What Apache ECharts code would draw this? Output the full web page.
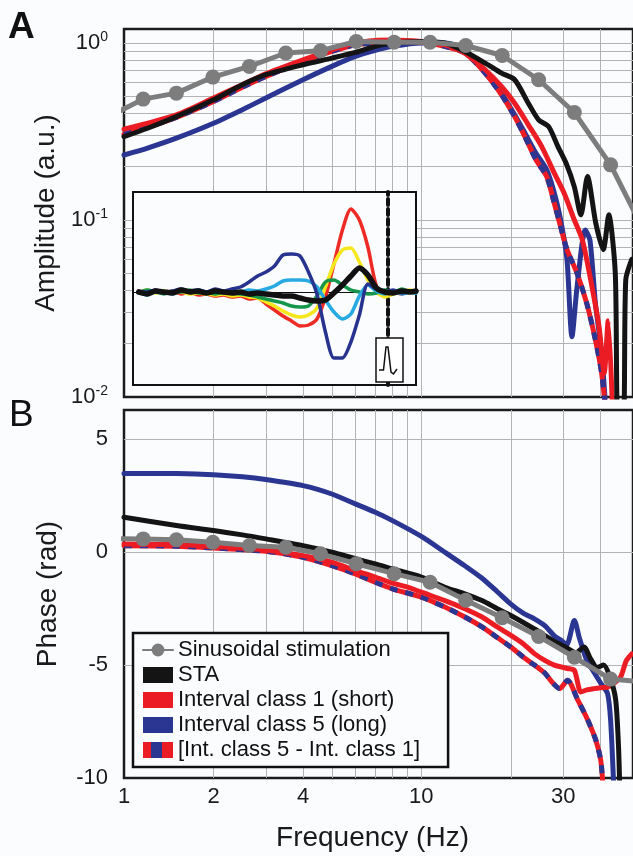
<!DOCTYPE html>
<html>
<head>
<meta charset="utf-8">
<script src="https://cdn.jsdelivr.net/npm/echarts@6/dist/echarts.min.js"></script>
<style>
html,body{margin:0;padding:0;background:#fbfcfe;}
#chart{width:633px;height:856px;}
</style>
</head>
<body>
<div id="chart"></div>
<script>
// ---------- Panel A: amplitude ----------
const sineFreq   = [0.877, 1.16, 1.5, 1.99, 2.64, 3.5, 4.58, 6.04, 8.1, 10.7, 14.1, 18.7, 24.8, 32.7, 43.3, 57.2];
const sineAmp    = [0.38, 0.482, 0.521, 0.642, 0.737, 0.878, 0.905, 1.02, 1.01, 1.01, 0.968, 0.85, 0.62, 0.405, 0.205, 0.081];
const sinePhase  = [0.6, 0.59, 0.55, 0.44, 0.30, 0.22, -0.07, -0.51, -0.95, -1.33, -2.13, -2.9, -3.73, -4.65, -5.62, -5.75];

const staFreqA = [1, 1.2, 1.5, 2, 2.5, 3, 4, 5, 6, 7, 8, 10, 12, 14, 16.4, 18.6, 20.6, 22.9, 24.8, 26.8, 28.8, 30.7, 32.7, 34.4, 36.2, 38.6, 40.9, 42.7, 44.9, 45.8, 47.8, 48.7, 51];
const staAmp   = [0.296, 0.33, 0.384, 0.478, 0.581, 0.662, 0.754, 0.822, 0.885, 0.957, 1.0, 1.02, 1.0, 0.896, 0.77, 0.676, 0.62, 0.457, 0.368, 0.337, 0.26, 0.209, 0.154, 0.107, 0.176, 0.096, 0.068, 0.107, 0.05, 0.008, 0.008, 0.046, 0.06];

const redFreqA = [1, 1.5, 2, 2.5, 3, 4, 5, 6, 7, 8, 10, 12, 14, 16.4, 18.6, 20.6, 22.9, 25.4, 28, 30.2, 32.7, 34.8, 37.1, 39.6, 41.2, 42.5, 44.0];
const redAmp   = [0.326, 0.393, 0.489, 0.581, 0.67, 0.804, 0.916, 1.0, 1.035, 1.04, 1.02, 0.978, 0.878, 0.706, 0.568, 0.457, 0.345, 0.26, 0.184, 0.142, 0.1, 0.077, 0.046, 0.0249, 0.0136, 0.027, 0.008];

const blueFreqA = [1, 1.2, 1.5, 2, 2.5, 3, 4, 5, 6, 7, 8, 10, 12, 14, 16.4, 18.6, 20.6, 22.3, 24.3, 26.4, 28.2, 29.7, 30.9, 32.1, 33.4, 35.6, 36.9, 38.5, 40.4, 41.8];
const blueAmp   = [0.233, 0.255, 0.29, 0.352, 0.42, 0.489, 0.62, 0.738, 0.84, 0.908, 0.957, 1.0, 1.0, 0.916, 0.676, 0.521, 0.393, 0.31, 0.238, 0.192, 0.136, 0.0917, 0.0594, 0.0219, 0.042, 0.0877, 0.077, 0.0338, 0.0176, 0.008];

const diffFreqA = [1, 1.2, 1.5, 2, 2.5, 3, 4, 5, 6, 7, 8, 10, 12, 14, 16.4, 18.6, 20.6, 22.3, 24.3, 26.4, 27.8, 29.4, 30.9, 33.4, 36.0, 38.5, 40.4, 41.8];
const diffAmp   = [0.305, 0.335, 0.38, 0.467, 0.563, 0.647, 0.787, 0.896, 0.978, 1.0, 1.02, 1.01, 0.957, 0.878, 0.676, 0.51, 0.384, 0.296, 0.219, 0.176, 0.13, 0.0917, 0.068, 0.05, 0.0338, 0.021, 0.0136, 0.008];

// ---------- Panel B: phase ----------
const staFreqB = [1, 1.5, 2, 2.5, 3, 4, 5, 6, 7, 8, 10, 12, 14, 16, 18, 20, 24, 28, 31, 33, 35.3, 37, 39, 41, 43, 45, 46, 46.5];
const staPhase = [1.55, 1.18, 0.96, 0.77, 0.59, 0.29, 0.0, -0.29, -0.52, -0.74, -1.10, -1.55, -1.84, -2.14, -2.5, -2.8, -3.4, -3.95, -4.25, -4.45, -4.2, -4.7, -5.1, -5.0, -5.5, -6.5, -8.5, -10.5];

const redFreqB = [1, 1.5, 2, 2.5, 3, 4, 5, 6, 7, 8, 9, 10, 12, 14, 16, 18, 20, 22, 24, 26, 28, 29.5, 31, 32.7, 34.4, 36, 38.1, 40, 42.3, 44.5, 46.8, 48.9, 51];
const redPhase = [0.37, 0.34, 0.25, 0.18, 0.10, -0.15, -0.44, -0.81, -1.10, -1.37, -1.55, -1.77, -2.14, -2.5, -2.87, -3.31, -3.68, -4.05, -4.49, -4.79, -5.0, -5.08, -5.15, -5.23, -6.19, -6.1, -6.04, -6.0, -5.97, -5.8, -5.52, -4.8, -4.5];

const blueFreqB = [1, 1.5, 2, 2.5, 3, 4, 5, 6, 7, 8, 10, 12, 14, 16, 18, 20, 22, 24, 26, 28, 29.5, 30.8, 32.7, 34, 36, 37.1, 40.2, 42.3, 43.3, 44.4];
const bluePhase = [3.49, 3.49, 3.43, 3.34, 3.22, 2.95, 2.58, 2.14, 1.77, 1.40, 0.70, 0.0, -0.6, -1.15, -1.75, -2.3, -2.7, -2.95, -3.25, -3.7, -3.9, -4.1, -3.02, -3.8, -4.8, -5.08, -5.82, -6.26, -7.44, -10.5];

const diffFreqB = [1, 1.5, 2, 3, 4, 5, 6, 7, 8, 10, 12, 14, 16, 18, 20, 22, 24, 26, 27.5, 29.2, 31, 33.6, 36.3, 38.6, 40.1, 40.8];
const diffPhase = [0.29, 0.27, 0.19, 0.04, -0.22, -0.59, -0.96, -1.33, -1.62, -1.99, -2.43, -2.87, -3.31, -3.78, -4.2, -4.64, -5.0, -5.35, -5.75, -6.04, -5.67, -6.55, -7.44, -8.32, -9.2, -10.3];

// ---------- Inset: spike-triggered waveforms ----------
const insetTime = [-88, -85, -82, -79, -76, -73, -70, -67, -64, -61, -58, -55, -52, -49, -46, -43, -40, -37, -34, -31, -28, -25, -22, -19, -16, -13, -10, -7, -4, -1, 2, 5, 8, 10];
const insetRed    = [0.01, -0.02, 0.02, -0.01, 0.01, -0.02, 0.0, -0.03, -0.02, -0.04, -0.03, -0.05, -0.04, -0.07, -0.06, -0.12, -0.18, -0.24, -0.29, -0.34, -0.33, -0.27, -0.05, 0.28, 0.62, 0.83, 0.72, 0.45, 0.06, -0.03, 0.0, -0.02, 0.01, 0.0];
const insetYellow = [0.0, 0.02, -0.01, 0.01, -0.01, 0.0, -0.02, -0.01, -0.02, -0.03, -0.02, -0.04, -0.03, -0.05, -0.06, -0.1, -0.14, -0.19, -0.23, -0.25, -0.23, -0.16, 0.05, 0.28, 0.42, 0.44, 0.3, 0.12, 0.0, -0.05, -0.02, 0.0, 0.02, 0.0];
const insetGreen  = [-0.01, 0.02, 0.0, -0.02, 0.01, 0.0, 0.02, -0.01, 0.0, -0.02, 0.0, -0.01, -0.02, -0.03, -0.05, -0.07, -0.09, -0.11, -0.14, -0.15, -0.14, -0.04, 0.1, 0.12, 0.07, 0.02, 0.0, -0.02, -0.01, 0.02, 0.0, 0.03, 0.0, -0.01];
const insetCyan   = [0.0, -0.03, 0.01, 0.0, -0.02, 0.01, 0.0, 0.02, 0.0, 0.01, -0.01, 0.01, 0.0, 0.02, 0.01, 0.03, 0.06, 0.11, 0.12, 0.12, 0.11, 0.05, -0.08, -0.2, -0.27, -0.22, -0.04, 0.07, 0.01, -0.02, 0.01, -0.02, 0.0, -0.01];
const insetBlue   = [0.01, 0.0, 0.02, -0.01, 0.01, 0.03, 0.01, 0.02, 0.0, 0.03, 0.01, 0.03, 0.05, 0.1, 0.16, 0.2, 0.26, 0.37, 0.38, 0.36, 0.2, -0.02, -0.4, -0.66, -0.66, -0.5, -0.23, 0.08, 0.03, 0.0, 0.02, -0.01, 0.01, 0.0];
const insetBlack  = [0.0, -0.02, 0.01, 0.0, -0.01, 0.02, 0.0, 0.01, -0.01, 0.01, 0.0, -0.01, 0.0, -0.02, -0.01, -0.02, -0.03, -0.04, -0.04, -0.06, -0.08, -0.09, -0.08, -0.01, 0.07, 0.16, 0.24, 0.17, 0.04, 0.0, -0.01, 0.01, 0.0, 0.01];

// ---------- Ticks ----------
const freqLabels   = [1, 2, 4, 10, 30];
const freqGrid     = [2, 3, 4, 5, 6, 7, 8, 9, 10, 20, 30, 40];
const ampLabels    = [0.01, 0.1, 1];
const ampGrid      = [0.02, 0.03, 0.04, 0.05, 0.06, 0.07, 0.08, 0.09, 0.1, 0.2, 0.3, 0.4, 0.5, 0.6, 0.7, 0.8, 0.9, 1];
const phaseLabels  = [-10, -5, 0, 5];
const phaseGrid    = [-5, 0, 5];

const legendNames = ['Sinusoidal stimulation', 'STA', 'Interval class 1 (short)', 'Interval class 5 (long)', '[Int. class 5 - Int. class 1]'];

// ---------- Styles ----------
const FONT = 'Liberation Sans, Arial, Helvetica, sans-serif';
const BG = '#fbfcfe';
const C_GRAY = '#7d7d7d', C_BLACK = '#141414', C_RED = '#ec1c24', C_BLUE = '#2b3592';
const GRIDC = '#b3b3b3';

const pairs = (xs, ys) => xs.map((x, i) => [x, ys[i]]);

function lineSeries(name, xi, yi, data, color, width, z, extra) {
  return Object.assign({
    name: name, type: 'line', xAxisIndex: xi, yAxisIndex: yi, data: data,
    showSymbol: false, smooth: 0.25, color: color, z: z,
    lineStyle: { color: color, width: width, cap: 'round', join: 'round' },
    emphasis: { disabled: true }, animation: false
  }, extra || {});
}

const chart = echarts.init(document.getElementById('chart'), null, { renderer: 'canvas' });

const logFmt = v => '{b|10}{s|' + Math.round(Math.log10(v)) + '}';

const option = {
  backgroundColor: BG,
  animation: false,
  textStyle: { fontFamily: FONT },
  grid: [
    { left: 124, top: 29, right: -6, height: 368, show: true, borderColor: '#1c1c1c', borderWidth: 2.5, backgroundColor: 'transparent' },
    { left: 124, top: 410, right: -6, height: 368, show: true, borderColor: '#1c1c1c', borderWidth: 2.5, backgroundColor: 'transparent' },
    { left: 133, top: 192, width: 283, height: 193, show: true, borderColor: '#111', borderWidth: 2, backgroundColor: BG, z: 2 }
  ],
  xAxis: [
    { type: 'log', logBase: 10, gridIndex: 0, min: 1, max: 51.5,
      axisLine: { show: false }, axisTick: { show: false, customValues: freqGrid },
      axisLabel: { show: false }, splitLine: { show: true, lineStyle: { color: GRIDC, width: 1 } } },
    { type: 'log', logBase: 10, gridIndex: 1, min: 1, max: 51.5,
      axisLine: { show: false }, axisTick: { show: false, customValues: freqGrid },
      axisLabel: { show: true, customValues: freqLabels, fontSize: 22, color: '#1a1a1a', margin: 8, fontFamily: FONT, formatter: v => String(v) },
      splitLine: { show: true, lineStyle: { color: GRIDC, width: 1 } },
      name: 'Frequency (Hz)', nameLocation: 'middle', nameGap: 46,
      nameTextStyle: { fontSize: 28, color: '#1a1a1a', fontFamily: FONT, padding: [0, 12, 0, 0] } },
    { type: 'value', gridIndex: 2, min: -90, max: 10, z: 3,
      axisLine: { show: true, onZero: true, lineStyle: { color: '#111', width: 1.2 } },
      axisTick: { show: false }, axisLabel: { show: false }, splitLine: { show: false } }
  ],
  yAxis: [
    { type: 'log', logBase: 10, gridIndex: 0, min: 0.01, max: 1.2,
      axisLine: { show: false }, axisTick: { show: false, customValues: ampGrid },
      axisLabel: { show: true, customValues: ampLabels, margin: 16, formatter: logFmt,
        rich: { b: { fontSize: 22, color: '#1a1a1a', fontFamily: FONT },
                s: { fontSize: 14, color: '#1a1a1a', fontFamily: FONT, padding: [0, 0, 12, 0] } } },
      splitLine: { show: true, lineStyle: { color: GRIDC, width: 1 } },
      name: 'Amplitude (a.u.)', nameLocation: 'middle', nameGap: 61,
      nameTextStyle: { fontSize: 28, color: '#1a1a1a', fontFamily: FONT } },
    { type: 'value', gridIndex: 1, min: -10, max: 6.3, interval: 5,
      axisLine: { show: false }, axisTick: { show: false, customValues: phaseGrid },
      axisLabel: { show: true, customValues: phaseLabels, fontSize: 22, color: '#1a1a1a', margin: 16, fontFamily: FONT },
      splitLine: { show: true, lineStyle: { color: GRIDC, width: 1 } },
      name: 'Phase (rad)', nameLocation: 'middle', nameGap: 62,
      nameTextStyle: { fontSize: 28, color: '#1a1a1a', fontFamily: FONT } },
    { type: 'value', gridIndex: 2, min: -0.93, max: 1.0, z: 3,
      axisLine: { show: true, onZero: true, lineStyle: { color: '#111', width: 4, type: [6, 4] } },
      axisTick: { show: false }, axisLabel: { show: false }, splitLine: { show: false } }
  ],
  legend: {
    left: 133, top: 633, orient: 'vertical',
    itemWidth: 30, itemHeight: 16, itemGap: 3,
    padding: [6, 28, 6, 9],
    borderColor: '#111', borderWidth: 2.5, backgroundColor: BG,
    selectedMode: false,
    textStyle: { fontSize: 22, lineHeight: 22, color: '#111', fontFamily: FONT },
    data: [
      { name: legendNames[0] },
      { name: legendNames[1], icon: 'rect' },
      { name: legendNames[2], icon: 'rect' },
      { name: legendNames[3], icon: 'rect' },
      { name: legendNames[4], icon: 'rect' }
    ]
  },
  graphic: [
    { type: 'text', left: 8, top: 9, z: 100, style: { text: 'A', font: 'bold 37px ' + FONT, fill: '#111' } },
    { type: 'text', left: 9, top: 397, z: 100, style: { text: 'B', font: '37px ' + FONT, fill: '#111' } },
    { type: 'rect', z: 100, shape: { x: 151, y: 742, width: 11, height: 16 }, style: { fill: C_BLUE } },
    { type: 'rect', z: 100, shape: { x: 376, y: 338, width: 27, height: 44 }, style: { fill: '#ffffff', stroke: '#111', lineWidth: 1.5 } },
    { type: 'polyline', z: 101, shape: { points: [[379, 370], [383.5, 370], [386, 347], [388, 347], [391, 372], [393.5, 374], [397, 369]] },
      style: { stroke: '#111', lineWidth: 1.5, fill: null } }
  ],
  series: [
    // Panel A
    lineSeries(legendNames[3], 0, 0, pairs(blueFreqA, blueAmp), C_BLUE, 5, 2),
    lineSeries(legendNames[4], 0, 0, pairs(diffFreqA, diffAmp), C_RED, 5, 3),
    lineSeries(legendNames[4], 0, 0, pairs(diffFreqA, diffAmp), C_BLUE, 5, 3,
      { lineStyle: { color: C_BLUE, width: 5, type: [8, 8], cap: 'butt' } }),
    lineSeries(legendNames[2], 0, 0, pairs(redFreqA, redAmp), C_RED, 5, 4),
    lineSeries(legendNames[1], 0, 0, pairs(staFreqA, staAmp), C_BLACK, 5, 5),
    lineSeries(legendNames[0], 0, 0, pairs(sineFreq, sineAmp), C_GRAY, 5, 6,
      { showSymbol: true, symbol: 'circle', symbolSize: 15, smooth: false, itemStyle: { color: C_GRAY } }),
    // Panel B
    lineSeries(legendNames[3], 1, 1, pairs(blueFreqB, bluePhase), C_BLUE, 5, 2),
    lineSeries(legendNames[4], 1, 1, pairs(diffFreqB, diffPhase), C_RED, 5, 3),
    lineSeries(legendNames[4], 1, 1, pairs(diffFreqB, diffPhase), C_BLUE, 5, 3,
      { lineStyle: { color: C_BLUE, width: 5, type: [8, 8], cap: 'butt' } }),
    lineSeries(legendNames[2], 1, 1, pairs(redFreqB, redPhase), C_RED, 5, 4),
    lineSeries(legendNames[1], 1, 1, pairs(staFreqB, staPhase), C_BLACK, 5, 5),
    lineSeries(legendNames[0], 1, 1, pairs(sineFreq, sinePhase), C_GRAY, 5, 6,
      { showSymbol: true, symbol: 'circle', symbolSize: 15, smooth: false, itemStyle: { color: C_GRAY } }),
    // Inset
    lineSeries('insetRed', 2, 2, pairs(insetTime, insetRed), '#ee2a24', 3.5, 10),
    lineSeries('insetYellow', 2, 2, pairs(insetTime, insetYellow), '#f6e71c', 3.5, 10),
    lineSeries('insetGreen', 2, 2, pairs(insetTime, insetGreen), '#15964a', 3.5, 10),
    lineSeries('insetCyan', 2, 2, pairs(insetTime, insetCyan), '#27aae1', 3.5, 10),
    lineSeries('insetBlue', 2, 2, pairs(insetTime, insetBlue), '#27338f', 3.5, 10),
    lineSeries('insetBlack', 2, 2, pairs(insetTime, insetBlack), '#111111', 5.5, 11)
  ]
};
chart.setOption(option);
</script>
</body>
</html>
